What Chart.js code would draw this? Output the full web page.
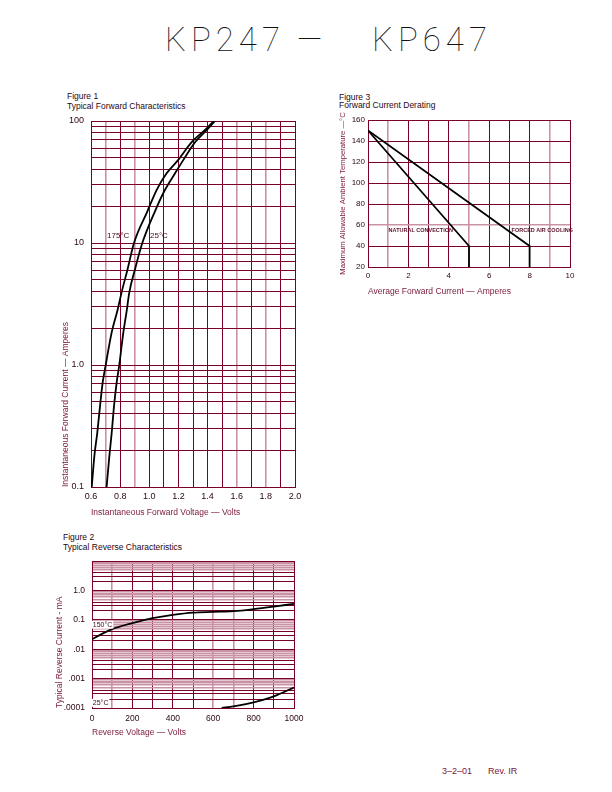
<!DOCTYPE html>
<html>
<head>
<meta charset="utf-8">
<title>KP247 - KP647</title>
<script src="https://cdn.jsdelivr.net/npm/chart.js@4.4.1/dist/chart.umd.min.js"></script>
<style>
    body { margin: 0; background: #fff; }
    .page { position: relative; width: 612px; height: 792px; font-family: "Liberation Sans", Arial, sans-serif; color: #2a0612; }
    .abs { position: absolute; white-space: nowrap; }
    .big { font-family: Roboto, "DejaVu Sans", sans-serif; font-weight: 100; font-size: 33px; letter-spacing: 5px; color: #111; top: 20px; line-height: 40px; }
    .cap { font-size: 8.5px; line-height: 10px; }
    .foot { font-size: 9px; color: #7a1838; top: 766px; }
    canvas { position: absolute; }
</style>
</head>
<body>
<div class="page">
    <div class="abs big" style="left:165px">KP247</div>
    <div class="abs big" style="left:297px; letter-spacing:0">—</div>
    <div class="abs big" style="left:372px">KP647</div>

    <div class="abs cap" style="left:67px; top:91px">Figure 1<br>Typical Forward Characteristics</div>
    <div class="abs cap" style="left:339px; top:93px; line-height:8px">Figure 3<br>Forward Current Derating</div>
    <div class="abs cap" style="left:63px; top:532px">Figure 2<br>Typical Reverse Characteristics</div>

    <canvas id="fwdChart" width="270" height="410" style="left:40px; top:115px"></canvas>
    <canvas id="deratingChart" width="260" height="215" style="left:330px; top:82px"></canvas>
    <canvas id="revChart" width="270" height="190" style="left:40px; top:555px"></canvas>

    <div class="abs foot" style="left:442px">3–2–01</div>
    <div class="abs foot" style="left:488px">Rev. IR</div>
</div>
<script>
(function () {
    'use strict';

    // Figure 1 - typical forward characteristics (volts / amperes)
    var fwdVolts175 = [0.605, 0.623, 0.643, 0.662, 0.680, 0.701, 0.742, 0.781, 0.810, 0.851, 0.895, 0.987, 1.051, 1.119, 1.199, 1.291, 1.394, 1.444];
    var fwdAmps175 = [0.1, 0.179, 0.278, 0.46, 0.716, 1.0, 1.85, 2.78, 3.94, 6.1, 10, 18.2, 27.3, 37.3, 48, 67, 87, 100];
    var fwdVolts25 = [0.707, 0.726, 0.742, 0.758, 0.776, 0.794, 0.822, 0.845, 0.863, 0.902, 0.952, 1.039, 1.108, 1.177, 1.234, 1.314, 1.405, 1.451];
    var fwdAmps25 = [0.1, 0.179, 0.278, 0.46, 0.716, 1.0, 1.85, 2.78, 3.94, 6.1, 10, 18.2, 27.3, 37.3, 48, 67, 87, 100];
    var fwdVoltLabels = [0.6, 0.8, 1.0, 1.2, 1.4, 1.6, 1.8, 2.0];
    var fwdAmpTicks = [0.1, 1, 10, 100];
    var fwdAmpLabels = ['0.1', '1.0', '10', '100'];

    // Figure 2 - typical reverse characteristics (volts / mA)
    var revVolts150 = [0, 100, 200, 300, 400, 500, 600, 700, 800, 900, 1000];
    var revMa150 = [0.022, 0.048, 0.077, 0.113, 0.147, 0.176, 0.186, 0.196, 0.229, 0.28, 0.35];
    var revVolts25 = [642, 700, 800, 900, 1000];
    var revMa25 = [0.0001, 0.000113, 0.000155, 0.000248, 0.0005];
    var revVoltLabels = [0, 200, 400, 600, 800, 1000];
    var revMaTicks = [0.0001, 0.001, 0.01, 0.1, 1];
    var revMaLabels = ['.0001', '.001', '.01', '0.1', '1.0'];

    // Figure 3 - forward current derating (amperes / deg C)
    var natAmps = [0, 5, 5];
    var natTemp = [150, 40, 20];
    var airAmps = [0, 8, 8];
    var airTemp = [150, 40, 20];
    var derAmpLabels = [0, 2, 4, 6, 8, 10];

    var DARK = '#7a0028';
    var LIGHT = '#c992a6';
    var TICK_TXT = '#2a0612';
    var TITLE_TXT = '#7a1838';

    Chart.defaults.font.family = '"Liberation Sans", Arial, sans-serif';
    Chart.defaults.animation = false;

    function pts(xs, ys) {
        return xs.map(function (x, i) { return { x: x, y: ys[i] }; });
    }

    function near(list, v) {
        for (var i = 0; i < list.length; i++) {
            if (Math.abs(list[i] - v) <= Math.max(1e-9, Math.abs(list[i]) * 1e-6)) return i;
        }
        return -1;
    }

    function stepTicks(min, max, step) {
        var out = [];
        var n = Math.round((max - min) / step);
        for (var i = 0; i <= n; i++) out.push({ value: Math.round((min + i * step) * 1e6) / 1e6 });
        return out;
    }

    function logTicks(min, max) {
        var out = [];
        for (var e = Math.round(Math.log10(min)); e < Math.round(Math.log10(max)); e++) {
            for (var m = 1; m < 10; m++) out.push({ value: m * Math.pow(10, e) });
        }
        out.push({ value: max });
        return out;
    }

    // fixed box size for a scale, without the extra room chart.js keeps for edge labels
    function fixBox(w, h) {
        return function (s) {
            if (w !== null) s.width = w;
            if (h !== null) s.height = h;
            s.paddingTop = s.paddingBottom = s.paddingLeft = s.paddingRight = 0;
        };
    }

    function curve(data, smooth) {
        return {
            data: data, borderColor: '#000', borderWidth: 1.8, pointRadius: 0, fill: false,
            tension: smooth ? 0.4 : 0,
            cubicInterpolationMode: smooth ? 'monotone' : 'default'
        };
    }

    // small text written on the plot at data coordinates
    var curveLabels = {
        id: 'curveLabels',
        afterDatasetsDraw: function (chart, args, opts) {
            var ctx = chart.ctx;
            var xs = chart.scales.x, ys = chart.scales.y;
            (opts.items || []).forEach(function (it) {
                var px = xs.getPixelForValue(it.x);
                var py = ys.getPixelForValue(it.y);
                ctx.save();
                ctx.font = opts.font;
                ctx.textBaseline = 'middle';
                if (it.bg) {
                    ctx.fillStyle = '#fff';
                    ctx.fillRect(px - 1, py - 4, ctx.measureText(it.text).width + 2, 8);
                }
                ctx.fillStyle = opts.color;
                ctx.fillText(it.text, px, py);
                ctx.restore();
            });
        }
    };

    function axisTitle(text, size, align, pad) {
        return {
            display: true, text: text, align: align, color: TITLE_TXT,
            font: { size: size }, padding: pad
        };
    }

    // Figure 1
    new Chart(document.getElementById('fwdChart').getContext('2d'), {
        type: 'line',
        data: { datasets: [curve(pts(fwdVolts175, fwdAmps175), true), curve(pts(fwdVolts25, fwdAmps25), true)] },
        plugins: [curveLabels],
        options: {
            responsive: false,
            layout: { padding: { left: 0, top: 6, right: 15, bottom: 0 } },
            plugins: {
                legend: { display: false }, tooltip: { enabled: false },
                curveLabels: {
                    font: '8px "Liberation Sans"', color: '#3a0a1a',
                    items: [{ text: '175°C', x: 0.71, y: 11.5 }, { text: '25°C', x: 1.005, y: 11.5 }]
                }
            },
            scales: {
                x: {
                    type: 'linear', min: 0.6, max: 2.0,
                    afterBuildTicks: function (s) { s.ticks = stepTicks(0.6, 2.0, 0.1); },
                    afterFit: fixBox(null, 38),
                    grid: {
                        drawTicks: false,
                        color: function (c) { return near([0.7, 0.9, 1.6, 1.8], c.tick.value) >= 0 ? LIGHT : DARK; },
                        lineWidth: function (c) { return near([0.7, 0.9, 1.6, 1.8], c.tick.value) >= 0 ? 1.6 : 1; }
                    },
                    border: { color: DARK },
                    ticks: {
                        autoSkip: false, maxRotation: 0, padding: 4.6, color: TICK_TXT, font: { size: 9 },
                        callback: function (v) { return near(fwdVoltLabels, v) >= 0 ? v.toFixed(1) : ''; }
                    },
                    title: axisTitle('Instantaneous Forward Voltage — Volts', 8.5, 'start', { top: 0, bottom: 6.9 })
                },
                y: {
                    type: 'logarithmic', min: 0.1, max: 100,
                    afterBuildTicks: function (s) { s.ticks = logTicks(0.1, 100); },
                    afterFit: fixBox(51, null),
                    grid: { drawTicks: false, color: DARK, lineWidth: 1 },
                    border: { color: DARK },
                    ticks: {
                        autoSkip: false, padding: 7, color: TICK_TXT, font: { size: 9 },
                        callback: function (v) { var i = near(fwdAmpTicks, v); return i >= 0 ? fwdAmpLabels[i] : ''; }
                    },
                    title: axisTitle('Instantaneous Forward Current — Amperes', 8.5, 'start', { top: 20.9, bottom: 0 })
                }
            }
        }
    });

    // Figure 3
    new Chart(document.getElementById('deratingChart').getContext('2d'), {
        type: 'line',
        data: { datasets: [curve(pts(natAmps, natTemp), false), curve(pts(airAmps, airTemp), false)] },
        plugins: [curveLabels],
        options: {
            responsive: false,
            layout: { padding: { left: 0, top: 38, right: 20, bottom: 0 } },
            plugins: {
                legend: { display: false }, tooltip: { enabled: false },
                curveLabels: {
                    font: 'bold 5.5px "Liberation Sans"', color: '#5a1028',
                    items: [{ text: 'NATURAL CONVECTION', x: 1.02, y: 55 }, { text: 'FORCED AIR COOLING', x: 7.11, y: 55 }]
                }
            },
            scales: {
                x: {
                    type: 'linear', min: 0, max: 10,
                    afterBuildTicks: function (s) { s.ticks = stepTicks(0, 10, 1); },
                    afterFit: fixBox(null, 30),
                    grid: {
                        drawTicks: false,
                        color: function (c) { return near([1, 5, 9], c.tick.value) >= 0 ? LIGHT : DARK; },
                        lineWidth: function (c) { return near([1, 5, 9], c.tick.value) >= 0 ? 1.6 : 1; }
                    },
                    border: { color: DARK },
                    ticks: {
                        autoSkip: false, maxRotation: 0, padding: 4.3, color: TICK_TXT, font: { size: 8 },
                        callback: function (v) { return near(derAmpLabels, v) >= 0 ? String(v) : ''; }
                    },
                    title: axisTitle('Average Forward Current — Amperes', 8.5, 'start', { top: 0, bottom: 0 })
                },
                y: {
                    type: 'linear', min: 20, max: 160,
                    afterBuildTicks: function (s) { s.ticks = stepTicks(20, 160, 20); },
                    afterFit: fixBox(38, null),
                    grid: {
                        drawTicks: false,
                        color: function (c) { return c.tick.value === 60 ? LIGHT : DARK; },
                        lineWidth: function (c) { return c.tick.value === 60 ? 1.6 : 1; }
                    },
                    border: { color: DARK },
                    ticks: { autoSkip: false, padding: 3, color: TICK_TXT, font: { size: 8 } },
                    title: axisTitle('Maximum Allowable Ambient Temperature —°C', 7.7, 'center', { top: 8.6, bottom: 0 })
                }
            }
        }
    });

    // Figure 2
    new Chart(document.getElementById('revChart').getContext('2d'), {
        type: 'line',
        data: { datasets: [curve(pts(revVolts150, revMa150), true), curve(pts(revVolts25, revMa25), true)] },
        plugins: [curveLabels],
        options: {
            responsive: false,
            layout: { padding: { left: 0, top: 6, right: 16, bottom: 0 } },
            plugins: {
                legend: { display: false }, tooltip: { enabled: false },
                curveLabels: {
                    font: '7px "Liberation Sans"', color: '#3a0a1a',
                    items: [{ text: '150°C', x: 4, y: 0.068, bg: true }, { text: '25°C', x: 4, y: 0.00015, bg: true }]
                }
            },
            scales: {
                x: {
                    type: 'linear', min: 0, max: 1000,
                    afterBuildTicks: function (s) { s.ticks = stepTicks(0, 1000, 100); },
                    afterFit: fixBox(null, 37),
                    grid: {
                        drawTicks: false,
                        color: function (c) { return near([100, 600, 700], c.tick.value) >= 0 ? LIGHT : DARK; },
                        lineWidth: function (c) { return near([100, 600, 700], c.tick.value) >= 0 ? 1.6 : 1; }
                    },
                    border: { color: DARK },
                    ticks: {
                        autoSkip: false, maxRotation: 0, padding: 5.6, color: TICK_TXT, font: { size: 8.5 },
                        callback: function (v) { return near(revVoltLabels, v) >= 0 ? String(v) : ''; }
                    },
                    title: axisTitle('Reverse Voltage — Volts', 8.5, 'start', { top: 0, bottom: 6.9 })
                },
                y: {
                    type: 'logarithmic', min: 0.0001, max: 10,
                    afterBuildTicks: function (s) { s.ticks = logTicks(0.0001, 10); },
                    afterFit: fixBox(52, null),
                    grid: {
                        drawTicks: false,
                        color: function (c) {
                            var m = Math.round(c.tick.value / Math.pow(10, Math.floor(Math.log10(c.tick.value) + 1e-9)));
                            return m >= 5 ? LIGHT : DARK;
                        },
                        lineWidth: function (c) {
                            var m = Math.round(c.tick.value / Math.pow(10, Math.floor(Math.log10(c.tick.value) + 1e-9)));
                            return m >= 5 ? 1.4 : 1;
                        }
                    },
                    border: { color: DARK },
                    ticks: {
                        autoSkip: false, padding: 7, color: TICK_TXT, font: { size: 8.5 },
                        callback: function (v) { var i = near(revMaTicks, v); return i >= 0 ? revMaLabels[i] : ''; }
                    },
                    title: axisTitle('Typical Reverse Current - mA', 8.5, 'start', { top: 14.9, bottom: 0 })
                }
            }
        }
    });
})();
</script>
</body>
</html>
